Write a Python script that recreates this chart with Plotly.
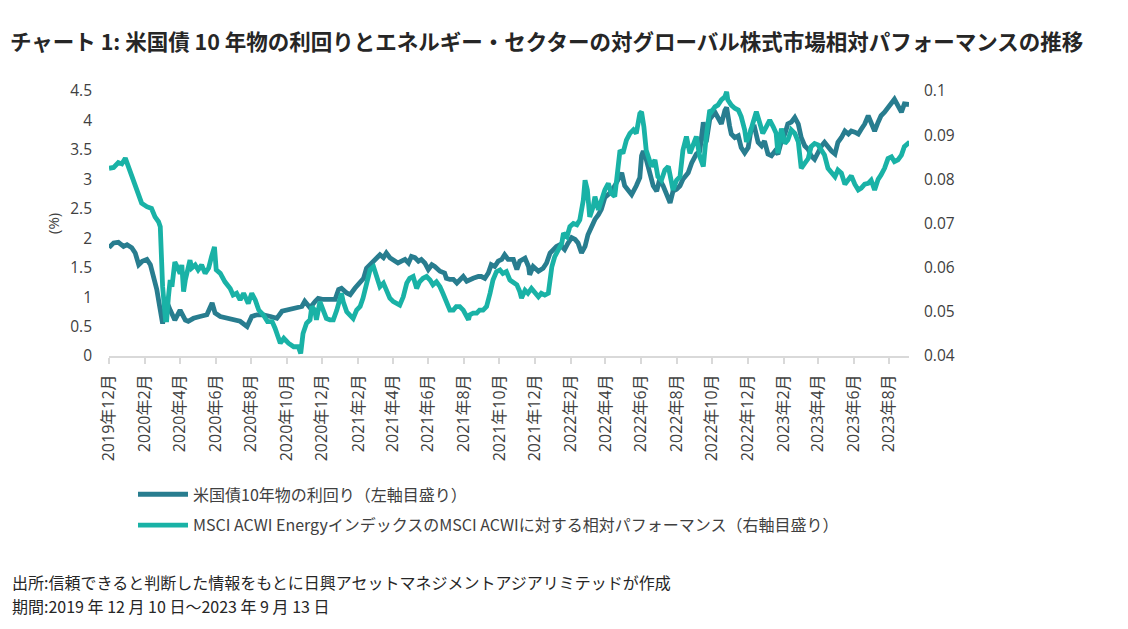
import plotly.graph_objects as go

# ---- US 10Y Treasury yield (%), left axis ----
yield_dates = [
    "2019-12-10", "2019-12-18", "2019-12-26", "2020-01-04", "2020-01-10", "2020-01-18", "2020-01-24",
    "2020-01-30", "2020-02-05", "2020-02-13", "2020-02-19", "2020-02-25", "2020-03-01", "2020-03-06",
    "2020-03-09", "2020-03-11", "2020-03-15", "2020-03-19", "2020-03-24", "2020-03-27", "2020-04-01",
    "2020-04-10", "2020-04-19", "2020-04-24", "2020-05-03", "2020-05-14", "2020-05-26", "2020-06-04",
    "2020-06-09", "2020-06-18", "2020-06-29", "2020-07-11", "2020-07-22", "2020-08-03", "2020-08-11",
    "2020-08-20", "2020-08-31", "2020-09-12", "2020-09-23", "2020-10-02", "2020-10-10", "2020-10-19",
    "2020-10-28", "2020-11-05", "2020-11-10", "2020-11-19", "2020-11-28", "2020-12-03", "2020-12-12",
    "2020-12-23", "2021-01-01", "2021-01-07", "2021-01-12", "2021-01-21", "2021-01-27", "2021-02-04",
    "2021-02-13", "2021-02-19", "2021-02-24", "2021-03-05", "2021-03-13", "2021-03-19", "2021-03-25",
    "2021-03-30", "2021-04-05", "2021-04-11", "2021-04-19", "2021-04-25", "2021-05-01", "2021-05-07",
    "2021-05-12", "2021-05-18", "2021-05-24", "2021-05-29", "2021-06-04", "2021-06-10", "2021-06-16",
    "2021-06-21", "2021-06-30", "2021-07-08", "2021-07-11", "2021-07-17", "2021-07-23", "2021-07-29",
    "2021-08-03", "2021-08-09", "2021-08-15", "2021-08-20", "2021-08-26", "2021-09-04", "2021-09-09",
    "2021-09-15", "2021-09-21", "2021-09-26", "2021-10-02", "2021-10-08", "2021-10-14", "2021-10-19",
    "2021-10-25", "2021-11-03", "2021-11-09", "2021-11-14", "2021-11-23", "2021-11-29", "2021-12-01",
    "2021-12-07", "2021-12-16", "2021-12-24", "2021-12-30", "2022-01-05", "2022-01-10", "2022-01-16",
    "2022-01-22", "2022-01-30", "2022-02-05", "2022-02-11", "2022-02-17", "2022-02-22", "2022-02-28",
    "2022-03-06", "2022-03-11", "2022-03-17", "2022-03-23", "2022-03-29", "2022-04-03", "2022-04-09",
    "2022-04-18", "2022-04-26", "2022-05-02", "2022-05-08", "2022-05-13", "2022-05-19", "2022-05-25",
    "2022-06-02", "2022-06-08", "2022-06-11", "2022-06-14", "2022-06-19", "2022-06-25", "2022-07-01",
    "2022-07-07", "2022-07-12", "2022-07-18", "2022-07-24", "2022-07-30", "2022-08-04", "2022-08-10",
    "2022-08-16", "2022-08-21", "2022-08-30", "2022-09-05", "2022-09-13", "2022-09-19", "2022-09-25",
    "2022-09-30", "2022-10-06", "2022-10-15", "2022-10-20", "2022-10-26", "2022-11-01", "2022-11-04",
    "2022-11-09", "2022-11-12", "2022-11-18", "2022-11-24", "2022-11-29", "2022-12-05", "2022-12-11",
    "2022-12-16", "2022-12-22", "2022-12-28", "2023-01-03", "2023-01-08", "2023-01-14", "2023-01-20",
    "2023-01-26", "2023-01-31", "2023-02-06", "2023-02-12", "2023-02-17", "2023-02-23", "2023-03-01",
    "2023-03-07", "2023-03-12", "2023-03-18", "2023-03-24", "2023-03-29", "2023-04-04", "2023-04-10",
    "2023-04-16", "2023-04-21", "2023-04-27", "2023-05-03", "2023-05-09", "2023-05-14", "2023-05-20",
    "2023-05-26", "2023-06-01", "2023-06-06", "2023-06-12", "2023-06-18", "2023-06-23", "2023-06-29",
    "2023-07-05", "2023-07-10", "2023-07-16", "2023-07-22", "2023-07-27", "2023-08-02", "2023-08-08",
    "2023-08-14", "2023-08-19", "2023-08-25", "2023-08-31", "2023-09-05", "2023-09-11", "2023-09-13",
]
yield_values = [
    1.84, 1.92, 1.93, 1.86, 1.89, 1.84, 1.75,
    1.55, 1.61, 1.64, 1.55, 1.35, 1.13, 0.84,
    0.56, 0.55, 0.80, 0.90, 0.78, 0.73, 0.61,
    0.78, 0.61, 0.59, 0.64, 0.67, 0.70, 0.90,
    0.73, 0.67, 0.64, 0.61, 0.59, 0.50, 0.67,
    0.70, 0.70, 0.67, 0.64, 0.76, 0.78, 0.81,
    0.84, 0.84, 0.93, 0.82, 0.93, 0.98, 0.96,
    0.96, 0.96, 1.13, 1.15, 1.07, 1.04, 1.15,
    1.24, 1.32, 1.49, 1.58, 1.64, 1.72, 1.67,
    1.75, 1.67, 1.64, 1.58, 1.61, 1.64, 1.58,
    1.69, 1.67, 1.61, 1.64, 1.58, 1.47, 1.55,
    1.52, 1.44, 1.41, 1.32, 1.30, 1.30, 1.24,
    1.30, 1.35, 1.27, 1.30, 1.32, 1.35, 1.35,
    1.32, 1.41, 1.55, 1.52, 1.61, 1.64, 1.72,
    1.64, 1.64, 1.47, 1.61, 1.66, 1.52, 1.38,
    1.52, 1.44, 1.49, 1.58, 1.75, 1.81, 1.86,
    1.89, 1.81, 1.92, 2.01, 1.98, 1.92, 1.75,
    1.86, 2.06, 2.20, 2.32, 2.40, 2.49, 2.69,
    2.77, 2.89, 3.00, 3.11, 2.89, 2.80, 2.74,
    2.89, 3.03, 3.40, 3.48, 3.34, 3.14, 2.89,
    2.80, 3.00, 2.89, 2.74, 2.60, 2.80, 2.83,
    2.89, 3.00, 3.11, 3.28, 3.43, 3.48, 3.97,
    3.63, 4.02, 4.14, 4.05, 3.94, 4.17, 4.22,
    3.91, 3.77, 3.71, 3.74, 3.54, 3.45, 3.54,
    3.85, 3.88, 3.63, 3.57, 3.65, 3.43, 3.40,
    3.48, 3.43, 3.65, 3.77, 3.94, 3.97, 4.05,
    3.94, 3.71, 3.57, 3.51, 3.40, 3.34, 3.48,
    3.57, 3.63, 3.54, 3.48, 3.43, 3.63, 3.71,
    3.82, 3.77, 3.82, 3.80, 3.77, 3.85, 3.94,
    4.08, 3.94, 3.82, 3.97, 4.08, 4.14, 4.22,
    4.31, 4.36, 4.25, 4.14, 4.28, 4.28, 4.27,
]

# ---- MSCI ACWI Energy relative to MSCI ACWI, right axis ----
rel_dates = [
    "2019-12-10", "2019-12-18", "2019-12-26", "2020-01-01", "2020-01-07", "2020-01-12", "2020-01-18",
    "2020-01-24", "2020-01-30", "2020-02-04", "2020-02-13", "2020-02-21", "2020-02-27", "2020-03-04",
    "2020-03-07", "2020-03-11", "2020-03-16", "2020-03-18", "2020-03-21", "2020-03-24", "2020-03-27",
    "2020-03-29", "2020-04-01", "2020-04-05", "2020-04-10", "2020-04-13", "2020-04-16", "2020-04-19",
    "2020-04-22", "2020-04-27", "2020-04-30", "2020-05-06", "2020-05-11", "2020-05-17", "2020-05-23",
    "2020-05-29", "2020-06-03", "2020-06-08", "2020-06-11", "2020-06-18", "2020-06-26", "2020-07-05",
    "2020-07-10", "2020-07-16", "2020-07-22", "2020-07-28", "2020-08-05", "2020-08-11", "2020-08-17",
    "2020-08-23", "2020-08-31", "2020-09-07", "2020-09-15", "2020-09-20", "2020-09-29", "2020-10-05",
    "2020-10-13", "2020-10-22", "2020-10-30", "2020-11-03", "2020-11-07", "2020-11-13", "2020-11-19",
    "2020-11-22", "2020-11-27", "2020-11-30", "2020-12-06", "2020-12-12", "2020-12-17", "2020-12-23",
    "2020-12-29", "2021-01-04", "2021-01-09", "2021-01-12", "2021-01-15", "2021-01-21", "2021-01-26",
    "2021-02-01", "2021-02-07", "2021-02-13", "2021-02-18", "2021-02-24", "2021-03-02", "2021-03-08",
    "2021-03-13", "2021-03-19", "2021-03-25", "2021-03-30", "2021-04-05", "2021-04-11", "2021-04-16",
    "2021-04-22", "2021-04-28", "2021-05-04", "2021-05-09", "2021-05-15", "2021-05-21", "2021-05-26",
    "2021-06-01", "2021-06-07", "2021-06-13", "2021-06-18", "2021-06-24", "2021-06-30", "2021-07-05",
    "2021-07-11", "2021-07-17", "2021-07-23", "2021-07-28", "2021-08-03", "2021-08-09", "2021-08-15",
    "2021-08-18", "2021-08-20", "2021-08-26", "2021-09-01", "2021-09-06", "2021-09-12", "2021-09-18",
    "2021-09-24", "2021-09-29", "2021-10-05", "2021-10-11", "2021-10-16", "2021-10-22", "2021-10-28",
    "2021-11-03", "2021-11-09", "2021-11-14", "2021-11-17", "2021-11-23", "2021-11-28", "2021-12-04",
    "2021-12-10", "2021-12-16", "2021-12-21", "2021-12-27", "2022-01-02", "2022-01-05", "2022-01-08",
    "2022-01-13", "2022-01-19", "2022-01-25", "2022-01-28", "2022-02-03", "2022-02-08", "2022-02-14",
    "2022-02-20", "2022-02-25", "2022-03-03", "2022-03-06", "2022-03-10", "2022-03-14", "2022-03-20",
    "2022-03-23", "2022-03-29", "2022-04-03", "2022-04-09", "2022-04-15", "2022-04-20", "2022-04-26",
    "2022-05-02", "2022-05-05", "2022-05-10", "2022-05-16", "2022-05-22", "2022-05-28", "2022-06-02",
    "2022-06-08", "2022-06-11", "2022-06-15", "2022-06-19", "2022-06-22", "2022-06-28", "2022-07-04",
    "2022-07-09", "2022-07-15", "2022-07-21", "2022-07-27", "2022-07-30", "2022-08-04", "2022-08-10",
    "2022-08-16", "2022-08-21", "2022-08-27", "2022-09-02", "2022-09-07", "2022-09-13", "2022-09-19",
    "2022-09-25", "2022-09-30", "2022-10-06", "2022-10-09", "2022-10-15", "2022-10-20", "2022-10-26",
    "2022-11-01", "2022-11-04", "2022-11-06", "2022-11-12", "2022-11-18", "2022-11-24", "2022-11-29",
    "2022-12-05", "2022-12-08", "2022-12-14", "2022-12-19", "2022-12-25", "2022-12-31", "2023-01-05",
    "2023-01-11", "2023-01-17", "2023-01-23", "2023-01-28", "2023-01-31", "2023-02-06", "2023-02-12",
    "2023-02-17", "2023-02-23", "2023-03-01", "2023-03-07", "2023-03-12", "2023-03-18", "2023-03-24",
    "2023-03-29", "2023-04-04", "2023-04-10", "2023-04-16", "2023-04-21", "2023-04-27", "2023-05-03",
    "2023-05-09", "2023-05-14", "2023-05-20", "2023-05-26", "2023-06-01", "2023-06-06", "2023-06-12",
    "2023-06-18", "2023-06-23", "2023-06-29", "2023-07-05", "2023-07-10", "2023-07-16", "2023-07-22",
    "2023-07-27", "2023-08-02", "2023-08-08", "2023-08-14", "2023-08-19", "2023-08-25", "2023-08-31",
    "2023-09-05", "2023-09-11", "2023-09-13",
]
rel_values = [
    0.0825, 0.0827, 0.0838, 0.0835, 0.0848, 0.0829, 0.0810,
    0.0783, 0.0764, 0.0746, 0.0738, 0.0734, 0.0715, 0.0704,
    0.0693, 0.0557, 0.0482, 0.0482, 0.0534, 0.0572, 0.0557,
    0.0580, 0.0613, 0.0602, 0.0587, 0.0606, 0.0546, 0.0572,
    0.0587, 0.0617, 0.0599, 0.0606, 0.0595, 0.0606, 0.0587,
    0.0599, 0.0625, 0.0647, 0.0595, 0.0587, 0.0568, 0.0553,
    0.0538, 0.0542, 0.0527, 0.0542, 0.0519, 0.0542, 0.0527,
    0.0504, 0.0493, 0.0478, 0.0478, 0.0463, 0.0429, 0.0440,
    0.0429, 0.0421, 0.0421, 0.0406, 0.0451, 0.0474, 0.0482,
    0.0512, 0.0504, 0.0482, 0.0523, 0.0504, 0.0485, 0.0482,
    0.0482, 0.0504, 0.0527, 0.0542, 0.0523, 0.0500, 0.0493,
    0.0485, 0.0504, 0.0512, 0.0531, 0.0565, 0.0595, 0.0602,
    0.0580, 0.0557, 0.0565, 0.0549, 0.0531, 0.0523, 0.0519,
    0.0515, 0.0534, 0.0565, 0.0576, 0.0580, 0.0553, 0.0568,
    0.0576, 0.0580, 0.0572, 0.0561, 0.0568, 0.0557, 0.0542,
    0.0519, 0.0504, 0.0504, 0.0512, 0.0512, 0.0504, 0.0489,
    0.0482, 0.0493, 0.0497, 0.0497, 0.0504, 0.0504, 0.0512,
    0.0542, 0.0572, 0.0591, 0.0595, 0.0587, 0.0591, 0.0572,
    0.0565, 0.0561, 0.0546, 0.0531, 0.0549, 0.0542, 0.0553,
    0.0542, 0.0534, 0.0542, 0.0538, 0.0542, 0.0572, 0.0602,
    0.0625, 0.0640, 0.0655, 0.0678, 0.0670, 0.0693, 0.0700,
    0.0697, 0.0708, 0.0753, 0.0798, 0.0776, 0.0715, 0.0738,
    0.0761, 0.0731, 0.0753, 0.0776, 0.0791, 0.0768, 0.0761,
    0.0829, 0.0866, 0.0859, 0.0889, 0.0904, 0.0912, 0.0904,
    0.0949, 0.0953, 0.0919, 0.0866, 0.0855, 0.0829, 0.0844,
    0.0806, 0.0798, 0.0821, 0.0829, 0.0806, 0.0776, 0.0798,
    0.0806, 0.0866, 0.0897, 0.0859, 0.0874, 0.0897, 0.0851,
    0.0829, 0.0897, 0.0957, 0.0953, 0.0964, 0.0968, 0.0980,
    0.0987, 0.0998, 0.0980, 0.0968, 0.0961, 0.0957, 0.0942,
    0.0912, 0.0885, 0.0904, 0.0927, 0.0953, 0.0927, 0.0904,
    0.0919, 0.0934, 0.0919, 0.0904, 0.0859, 0.0915, 0.0881,
    0.0889, 0.0912, 0.0904, 0.0885, 0.0825, 0.0836, 0.0847,
    0.0874, 0.0881, 0.0878, 0.0866, 0.0855, 0.0825, 0.0814,
    0.0806, 0.0821, 0.0814, 0.0789, 0.0800, 0.0808, 0.0789,
    0.0776, 0.0780, 0.0789, 0.0791, 0.0798, 0.0776, 0.0800,
    0.0810, 0.0825, 0.0847, 0.0851, 0.0840, 0.0844, 0.0855,
    0.0874, 0.0881, 0.0878,
]

series_names = [
    "米国債10年物の利回り（左軸目盛り）",
    "MSCI ACWI EnergyインデックスのMSCI ACWIに対する相対パフォーマンス（右軸目盛り）",
]
title_text = "チャート 1: 米国債 10 年物の利回りとエネルギー・セクターの対グローバル株式市場相対パフォーマンスの推移"
source_text = "出所:信頼できると判断した情報をもとに日興アセットマネジメントアジアリミテッドが作成"
period_text = "期間:2019 年 12 月 10 日～2023 年 9 月 13 日"

DARK = "#287D8F"
TEAL = "#19B2A6"
TXT = "#404040"
FONT = "Open Sans, Noto Sans CJK JP, sans-serif"
CJK = "Noto Sans CJK JP, sans-serif"

fig = go.Figure()
fig.add_trace(go.Scatter(
    x=yield_dates, y=yield_values, name=series_names[0], mode="lines",
    line=dict(color=DARK, width=4.8), yaxis="y", legendgroup="a",
))
fig.add_trace(go.Scatter(
    x=rel_dates, y=rel_values, name=series_names[1], mode="lines",
    line=dict(color=TEAL, width=4.8), yaxis="y2", legendgroup="b",
))

fig.update_layout(
    width=1128, height=629, autosize=False,
    margin=dict(l=109, r=219, t=91, b=273, pad=0),
    paper_bgcolor="white", plot_bgcolor="white",
    font=dict(family=FONT, size=16, color=TXT),
    showlegend=True,
    legend=dict(
        x=0.03, xanchor="left", y=-0.458, yanchor="top",
        orientation="v", font=dict(family=CJK, size=16, color=TXT),
        itemwidth=50, tracegroupgap=7, bgcolor="rgba(0,0,0,0)",
    ),
    xaxis=dict(
        type="date", range=["2019-12-10", "2023-09-13"],
        tick0="2019-12-10", dtick="M2", tickformat="%Y年%-m月",
        tickangle=-90, ticks="outside", ticklen=6, tickwidth=1.5, tickcolor="#D9D9D9",
        showline=True, linecolor="#D9D9D9", linewidth=2, showgrid=False, zeroline=False,
        tickfont=dict(family=FONT, size=16, color=TXT), ticklabelstandoff=4,
    ),
    yaxis=dict(
        range=[0, 4.5], dtick=0.5, tick0=0, showgrid=False, zeroline=False, showline=False,
        ticks="", tickfont=dict(family=FONT, size=15.5, color=TXT), ticklabelstandoff=16,
    ),
    yaxis2=dict(
        range=[0.04, 0.1], dtick=0.01, tick0=0.04, overlaying="y", side="right",
        showgrid=False, zeroline=False, showline=False, ticks="",
        tickfont=dict(family=FONT, size=15.5, color=TXT), ticklabelstandoff=14,
    ),
    title=dict(
        text="<b>" + title_text + "</b>", xref="container", yref="container",
        x=10 / 1128, xanchor="left", y=1 - 42 / 629, yanchor="middle",
        font=dict(family=CJK, size=21.5, color="#262626"),
    ),
    annotations=[
        dict(text="(%)", textangle=-90, xref="paper", yref="paper",
             x=(53 - 109) / 800, y=(356 - 223) / 265, xanchor="center", yanchor="middle",
             showarrow=False, font=dict(family=FONT, size=15, color=TXT)),
        dict(text=source_text, xref="paper", yref="paper",
             x=(10 - 109) / 800, y=(356 - 582) / 265, xanchor="left", yanchor="middle",
             showarrow=False, font=dict(family=CJK, size=16, color="#262626")),
        dict(text=period_text, xref="paper", yref="paper",
             x=(10 - 109) / 800, y=(356 - 606) / 265, xanchor="left", yanchor="middle",
             showarrow=False, font=dict(family=CJK, size=16, color="#262626")),
    ],
)

fig.write_html("out.html", config={"displayModeBar": False},
               post_script="document.body.style.margin='0';")
